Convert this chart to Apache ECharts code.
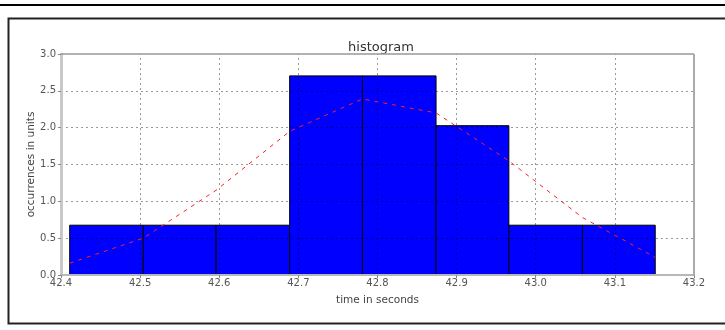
<!DOCTYPE html>
<html>
<head>
<meta charset="utf-8">
<script src="https://cdn.jsdelivr.net/npm/echarts@6/dist/echarts.min.js"></script>
<style>
  html, body { margin: 0; padding: 0; background: #fff; }
  #chart { width: 725px; height: 330px; }
</style>
</head>
<body>
<div id="chart"></div>
<script>
// Histogram bin edges (seconds) and bar heights (normalised occurrences)
const binEdges = [42.411, 42.504, 42.596, 42.689, 42.781, 42.874, 42.966, 43.059, 43.151];
const binHeights = [0.676, 0.676, 0.676, 2.703, 2.703, 2.027, 0.676, 0.676];
// Fitted curve sampled at the bin edges
const curveValues = [0.16, 0.50, 1.15, 1.95, 2.39, 2.20, 1.55, 0.78, 0.24];
// Axis ticks
const xTicks = [42.4, 42.5, 42.6, 42.7, 42.8, 42.9, 43.0, 43.1, 43.2];
const yTicks = [0.0, 0.5, 1.0, 1.5, 2.0, 2.5, 3.0];

const font = 'DejaVu Sans';
const bars = binHeights.map((h, i) => [binEdges[i], binEdges[i + 1], h]);
const curve = binEdges.map((x, i) => [x, curveValues[i]]);

// dotted grid lines at every tick, laid over the bars
const gridMarks = [
  ...xTicks.slice(1, -1).map(v => ({ xAxis: v })),
  ...yTicks.slice(1, -1).map(v => ({ yAxis: v }))
];

const chart = echarts.init(document.getElementById('chart'), null, { renderer: 'canvas' });
chart.setOption({
  animation: false,
  backgroundColor: '#fff',
  title: {
    text: 'histogram',
    left: 376, top: 36, textAlign: 'center',
    textStyle: { fontFamily: font, fontSize: 13, fontWeight: 'normal', color: '#333' }
  },
  grid: { left: 61, right: 31, top: 54, bottom: 55 },
  xAxis: {
    type: 'value',
    z: 5,
    min: xTicks[0], max: xTicks[xTicks.length - 1], interval: 0.1,
    name: 'time in seconds', nameLocation: 'middle', nameGap: 20,
    nameMoveOverlap: false,
    nameTextStyle: { fontFamily: font, fontSize: 10.5, color: '#444' },
    axisLine: { show: true, onZero: false, lineStyle: { color: '#b8b8b8', width: 2 } },
    axisTick: { show: true, length: 3, lineStyle: { color: '#888' } },
    axisLabel: {
      fontFamily: font, fontSize: 10, color: '#555', margin: 3,
      formatter: v => v.toFixed(1)
    },
    splitLine: { show: false }
  },
  yAxis: {
    type: 'value',
    z: 5,
    min: yTicks[0], max: yTicks[yTicks.length - 1], interval: 0.5,
    name: 'occurrences in units', nameLocation: 'middle', nameGap: 24,
    nameMoveOverlap: false,
    nameTextStyle: { fontFamily: font, fontSize: 10.5, color: '#444' },
    axisLine: { show: true, lineStyle: { color: '#c8c8c8', width: 3 } },
    axisTick: { show: true, length: 3, lineStyle: { color: '#888' } },
    axisLabel: {
      fontFamily: font, fontSize: 10, color: '#555', margin: 5,
      formatter: v => v.toFixed(1)
    },
    splitLine: { show: false }
  },
  series: [
    {
      type: 'custom',
      data: bars,
      encode: { x: [0, 1], y: 2 },
      renderItem: (params, api) => {
        const p0 = api.coord([api.value(0), api.value(2)]);
        const p1 = api.coord([api.value(1), 0]);
        return {
          type: 'rect',
          shape: { x: p0[0], y: p0[1], width: p1[0] - p0[0], height: p1[1] - p0[1] },
          style: { fill: '#0000ff', stroke: '#000', lineWidth: 1 }
        };
      },
      z: 1
    },
    {
      type: 'line',
      data: curve,
      showSymbol: false,
      symbol: 'none',
      lineStyle: { color: '#ff2020', width: 1, type: [4, 5] },
      z: 6,
      markLine: {
        silent: true,
        symbol: 'none',
        label: { show: false },
        animation: false,
        emphasis: { disabled: true },
        lineStyle: { color: '#000', opacity: 0.4, type: [2, 3], width: 1 },
        data: gridMarks
      }
    }
  ],
  graphic: [
    // top rule
    { type: 'rect', shape: { x: 0, y: 4, width: 725, height: 2 }, style: { fill: '#000' }, silent: true },
    // outer frame
    { type: 'rect', shape: { x: 8.5, y: 18.5, width: 740, height: 305 },
      style: { fill: null, stroke: '#222', lineWidth: 2 }, silent: true },
    // right and top spines of the plot box
    { type: 'line', shape: { x1: 61, y1: 54, x2: 694, y2: 54 }, style: { stroke: '#999', lineWidth: 1.5 }, silent: true, z: 10 },
    { type: 'line', shape: { x1: 694, y1: 54, x2: 694, y2: 275 }, style: { stroke: '#aaa', lineWidth: 2 }, silent: true, z: 10 }
  ]
});
</script>
</body>
</html>
